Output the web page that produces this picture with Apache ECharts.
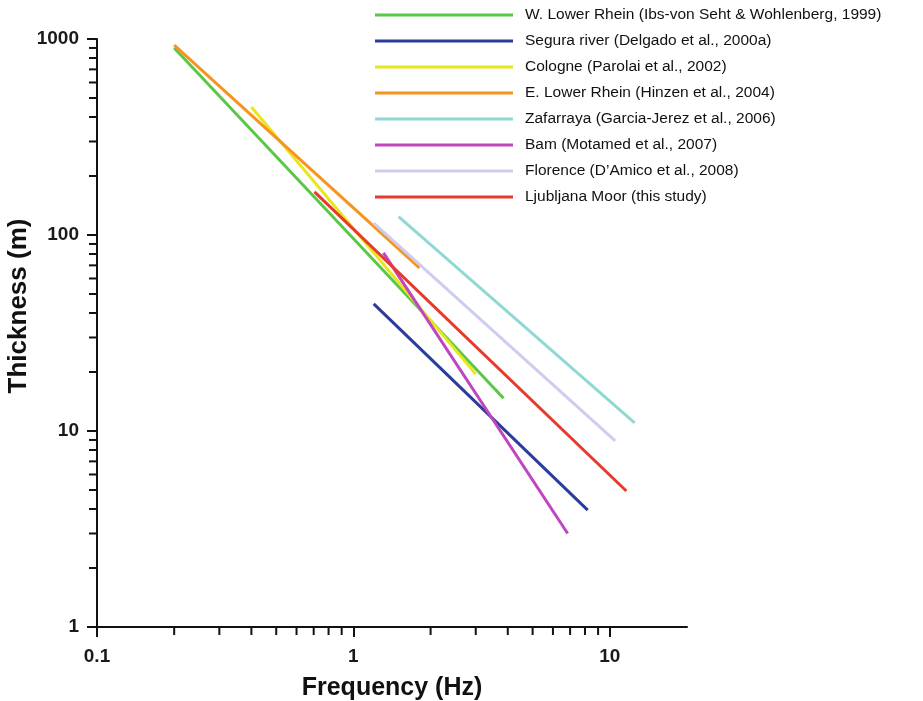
<!DOCTYPE html>
<html>
<head>
<meta charset="utf-8">
<script src="https://cdn.jsdelivr.net/npm/echarts@6/dist/echarts.min.js"></script>
<style>
html,body{margin:0;padding:0;background:#fff;}
#chart{width:923px;height:701px;}
</style>
</head>
<body>
<div id="chart"></div>
<script>
// ---- data ----
const seriesNames = [
  'W. Lower Rhein (Ibs-von Seht & Wohlenberg, 1999)',
  'Segura river (Delgado et al., 2000a)',
  'Cologne (Parolai et al., 2002)',
  'E. Lower Rhein (Hinzen et al., 2004)',
  'Zafarraya (Garcia-Jerez et al., 2006)',
  'Bam (Motamed et al., 2007)',
  'Florence (D\u2019Amico et al., 2008)',
  'Ljubljana Moor (this study)'
];
const freqStart  = [0.2, 1.2, 0.4, 0.2, 1.5, 1.31, 1.2, 0.705];
const freqEnd    = [3.85, 8.2, 3.0, 1.81, 12.5, 6.85, 10.5, 11.6];
const thickStart = [900, 44.5, 450, 930, 124, 81, 115, 166];
const thickEnd   = [14.7, 3.95, 19.5, 67.9, 11, 3.0, 8.9, 4.94];
const colors = ['#5bc746', '#2a3d9c', '#e9e61c', '#f7941d', '#8fd9d3', '#bf46bf', '#cdcdf0', '#e83a2c'];
const xMinorTicks = [0.2, 0.3, 0.4, 0.5, 0.6, 0.7, 0.8, 0.9, 2, 3, 4, 5, 6, 7, 8, 9];
const yMinorTicks = [2, 3, 4, 5, 6, 7, 8, 9, 20, 30, 40, 50, 60, 70, 80, 90, 200, 300, 400, 500, 600, 700, 800, 900];

const FONT = '"Liberation Sans", Arial, Helvetica, sans-serif';
const chart = echarts.init(document.getElementById('chart'), null, {renderer: 'canvas'});

const lineSeries = seriesNames.map((n, i) => ({
  name: n,
  type: 'line',
  symbol: 'none',
  color: colors[i],
  lineStyle: {width: 3, color: colors[i]},
  data: [[freqStart[i], thickStart[i]], [freqEnd[i], thickEnd[i]]],
  z: 3
}));

function tickSeries(data, dx, dy) {
  return {
    type: 'custom',
    silent: true,
    clip: false,
    z: 5,
    data: data,
    renderItem: function (params, api) {
      const p = api.coord([api.value(0), api.value(1)]);
      return {
        type: 'line',
        shape: {x1: p[0], y1: p[1], x2: p[0] + dx, y2: p[1] + dy},
        style: {stroke: '#111', lineWidth: 2}
      };
    }
  };
}

const option = {
  animation: false,
  backgroundColor: '#fff',
  grid: {left: 97, right: 236, top: 39, bottom: 74, containLabel: false, outerBoundsMode: 'none'},
  legend: {
    orient: 'vertical',
    left: 375,
    top: 7,
    padding: 0,
    data: seriesNames,
    icon: 'rect',
    itemWidth: 138,
    itemHeight: 3,
    itemGap: 10,
    textStyle: {fontFamily: FONT, fontSize: 15.5, color: '#111', lineHeight: 16, padding: [0, 0, 0, 7]}
  },
  xAxis: {
    type: 'log',
    logBase: 10,
    min: 0.1,
    max: 20,
    name: 'Frequency (Hz)',
    nameLocation: 'middle',
    nameGap: 49,
    nameMoveOverlap: false,
    nameTextStyle: {fontFamily: FONT, fontSize: 25, fontWeight: 'bold', color: '#111'},
    axisLine: {show: true, onZero: false, lineStyle: {color: '#111', width: 2}},
    axisTick: {show: true, inside: false, length: 10, lineStyle: {color: '#111', width: 2}},
    splitLine: {show: false},
    axisLabel: {
      fontFamily: FONT, fontSize: 19, fontWeight: 'bold', color: '#1a1a1a', margin: 20,
      showMaxLabel: false,
      formatter: function (v) { return String(+v.toPrecision(6)); }
    }
  },
  yAxis: {
    type: 'log',
    logBase: 10,
    min: 1,
    max: 1000,
    name: 'Thickness (m)',
    nameLocation: 'middle',
    nameGap: 65,
    nameMoveOverlap: false,
    nameTextStyle: {fontFamily: FONT, fontSize: 26, fontWeight: 'bold', color: '#111', padding: [0, 0, 0, 54]},
    axisLine: {show: true, onZero: false, lineStyle: {color: '#111', width: 2}},
    axisTick: {show: true, inside: false, length: 10, lineStyle: {color: '#111', width: 2}},
    splitLine: {show: false},
    axisLabel: {
      fontFamily: FONT, fontSize: 19, fontWeight: 'bold', color: '#1a1a1a', margin: 18,
      formatter: function (v) { return String(+v.toPrecision(6)); }
    }
  },
  series: lineSeries.concat([
    tickSeries(xMinorTicks.map(v => [v, 1]), 0, 8),
    tickSeries(yMinorTicks.map(v => [0.1, v]), -8, 0)
  ])
};
chart.setOption(option);
</script>
</body>
</html>
